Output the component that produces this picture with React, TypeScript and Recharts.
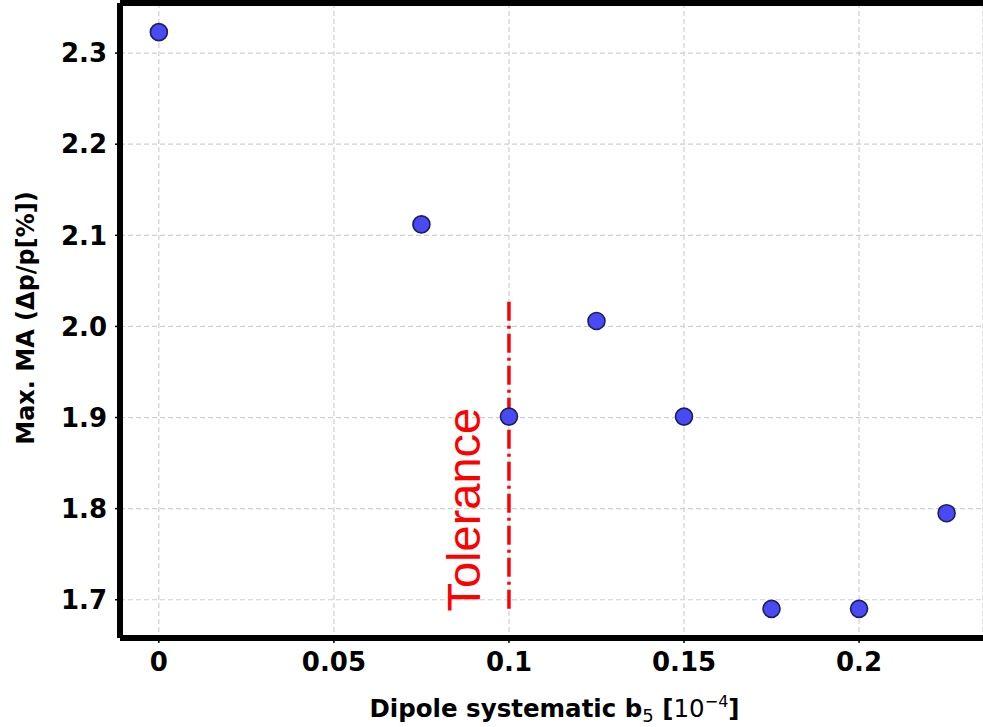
import React from 'react';
import { ScatterChart, Scatter, XAxis, YAxis, CartesianGrid, ReferenceLine, ReferenceDot } from 'recharts';

// b5 systematic values and the max. momentum acceptance found for each
const b5Values = [0, 0.075, 0.1, 0.125, 0.15, 0.175, 0.2, 0.225];
const maxMA = [2.323, 2.112, 1.901, 2.006, 1.901, 1.69, 1.69, 1.795];

const xTicks = [0, 0.05, 0.1, 0.15, 0.2];
const yTicks = [1.7, 1.8, 1.9, 2.0, 2.1, 2.2, 2.3];
const xDomain = [-0.0111, 0.2354];
const yDomain = [1.658, 2.355];

// tolerance marker
const toleranceX = 0.1;
const toleranceSpan = [1.69, 2.032];
const toleranceLabelAt = { x: 0.0916, y: 1.687 };

const points = b5Values.map((b5, i) => ({ b5, ma: maxMA[i] }));

const FONT = '"DejaVu Sans", sans-serif';

const Dot = (props: any) => (
    <circle cx={props.cx} cy={props.cy} r={8.5} fill="#4a4af4" stroke="#1e1e5c" strokeWidth={1.6} />
);

export default function App() {
    return (
        <div style={{ position: 'absolute', left: 0, top: 0, width: 983, height: 727, background: '#fff', fontFamily: FONT }}>
            <ScatterChart width={983} height={727} margin={{ top: 3, right: 0, bottom: 0, left: 0 }}>
                <CartesianGrid stroke="#d0d0d0" strokeDasharray="5 3" strokeWidth={1.2} />
                <XAxis
                    type="number"
                    dataKey="b5"
                    domain={xDomain}
                    ticks={xTicks}
                    allowDataOverflow
                    height={89}
                    axisLine={{ stroke: '#000', strokeWidth: 6 }}
                    tickLine={{ stroke: '#000', strokeWidth: 1.5 }}
                    tickSize={5}
                    tickMargin={10}
                    tick={{ fill: '#000', fontSize: 26, fontWeight: 700, fontFamily: FONT }}
                    label={{
                        content: (p: any) => {
                            const vb = p.viewBox || { x: 120, width: 863 };
                            return (
                                <text x={vb.x + vb.width / 2 + 3} y={717} textAnchor="middle" fill="#000" fontSize={24.5} fontFamily={FONT}>
                                    <tspan fontWeight={700}>Dipole systematic b</tspan>
                                    <tspan fontSize={18} dy={5}>5</tspan>
                                    <tspan dy={-5} fontWeight={700}> [</tspan>
                                    <tspan>10</tspan>
                                    <tspan fontSize={16} dy={-10}>−4</tspan>
                                    <tspan dy={10} fontWeight={700}>]</tspan>
                                </text>
                            );
                        },
                    }}
                />
                <YAxis
                    type="number"
                    dataKey="ma"
                    domain={yDomain}
                    ticks={yTicks}
                    allowDataOverflow
                    width={120}
                    axisLine={{ stroke: '#000', strokeWidth: 6 }}
                    tickLine={{ stroke: '#000', strokeWidth: 1.5 }}
                    tickSize={5}
                    tickMargin={8}
                    tickFormatter={(v: number) => v.toFixed(1)}
                    tick={{ fill: '#000', fontSize: 26, fontWeight: 700, fontFamily: FONT }}
                    label={{
                        content: () => (
                            <text
                                x={34}
                                y={318}
                                transform="rotate(-90 34 318)"
                                textAnchor="middle"
                                fill="#000"
                                fontSize={24}
                                fontWeight={700}
                                fontFamily={FONT}
                            >
                                Max. MA (Δp/p[%])
                            </text>
                        ),
                    }}
                />
                <ReferenceLine y={yDomain[1]} stroke="#000" strokeWidth={6} ifOverflow="visible" />
                <ReferenceLine
                    segment={[
                        { x: toleranceX, y: toleranceSpan[0] },
                        { x: toleranceX, y: toleranceSpan[1] },
                    ]}
                    stroke="#ff0000"
                    strokeWidth={3.5}
                    strokeDasharray="19 5 3 5"
                />
                <ReferenceDot
                    x={toleranceLabelAt.x}
                    y={toleranceLabelAt.y}
                    shape={(p: any) => (
                        <text
                            x={p.cx}
                            y={p.cy}
                            transform={`rotate(-90 ${p.cx} ${p.cy})`}
                            fill="#ff0000"
                            fontSize={47}
                            fontFamily='"Liberation Sans", Arial, sans-serif'
                        >
                            Tolerance
                        </text>
                    )}
                />
                <Scatter data={points} shape={Dot} isAnimationActive={false} />
            </ScatterChart>
        </div>
    );
}
